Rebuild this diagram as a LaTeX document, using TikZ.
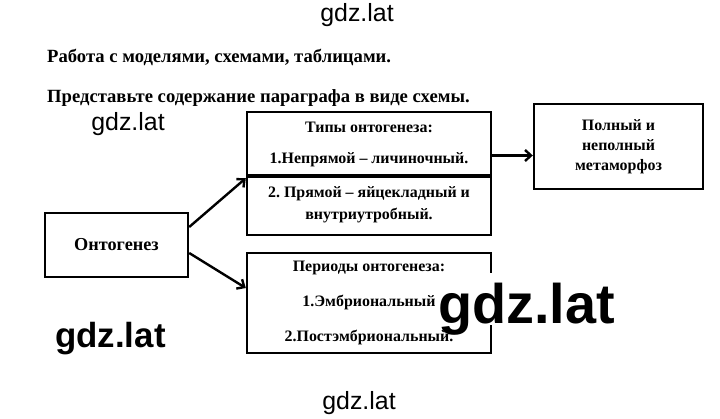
\documentclass[tikz,border=0pt]{standalone}
\usepackage{fontspec}
\setmainfont{Liberation Serif}
\newfontfamily\wmfont{Liberation Sans}
\usetikzlibrary{arrows.meta,calc}
\frenchspacing

\begin{document}
\begin{tikzpicture}[x=1bp, y=1bp, line width=2.4bp,
	blok/.style={draw, rectangle, align=center, inner sep=0pt,
		font=\bfseries\fontsize{16}{22}\selectfont},
	strel/.style={-{Straight Barb[length=6bp, width=11bp, line width=2.4bp]}},
	zag/.style={anchor=base west, inner sep=0pt, font=\bfseries\fontsize{18.7}{22}\selectfont},
	znak/.style={inner sep=0pt, font=\wmfont\fontsize{25}{25}\selectfont}]
		\useasboundingbox (0,0) rectangle (720,418);
		% zagolovok
		\node[zag] (z1) at (46,356) {Работа с моделями, схемами, таблицами.};
		\node[zag] (z2) at (46,316) {Представьте содержание параграфа в виде схемы.};
		% bloki
		\node[blok, minimum width=143bp, minimum height=64bp, font=\bfseries\fontsize{18.3}{22}\selectfont]
			(onto) at (116.5,173) {Онтогенез};
		\node[blok, minimum width=244bp, minimum height=65bp] (tipy) at (369,273.5)
			{Типы онтогенеза:\\[10bp] 1.Непрямой – личиночный.};
		\node[blok, minimum width=244bp, minimum height=60bp] (pryam) at (369,213)
			{2. Прямой – яйцекладный и\\ внутриутробный.};
		\node[blok, minimum width=169bp, minimum height=85bp, font=\bfseries\fontsize{16}{20}\selectfont]
			(meta) at (618.5,271.5) {Полный и\\ неполный\\ метаморфоз};
		\node[blok, minimum width=244bp, minimum height=100bp] (period) at (369,115)
			{Периоды онтогенеза:\\[13bp] 1.Эмбриональный\\[13bp] 2.Постэмбриональный.};
		% strelki
		\draw[strel] ([yshift=18bp]onto.east) -- (tipy.south west);
		\draw[strel] ([yshift=-8bp]onto.east) -- ([yshift=15bp]period.west);
		\draw[strel] ([yshift=-11bp]tipy.east) coordinate (t1) -- (t1 -| meta.west);
		% znaki
		\node[znak] (w1) at (357,403) {gdz.lat};
		\node[znak] (w2) at (128,294) {gdz.lat};
		\node[znak] (w3) at (359,15) {gdz.lat};
		\node[znak, anchor=base west, font=\wmfont\bfseries\fontsize{35}{35}\selectfont] (w4) at (54,71) {gdz.lat};
		\node[znak, anchor=base west, fill=white, inner sep=2bp, text height=48bp, text depth=0pt,
			font=\wmfont\bfseries\fontsize{56}{56}\selectfont] (w5) at (435,95) {gdz.lat};
	\end{tikzpicture}
\end{document}
